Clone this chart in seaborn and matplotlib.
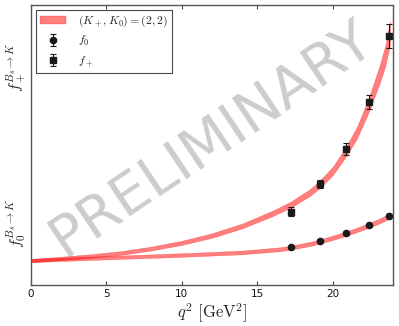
import numpy as np
import pandas as pd
import matplotlib
matplotlib.use('Agg')
import matplotlib.pyplot as plt
import seaborn as sns

# lattice points
q2_pts = [17.24, 19.16, 20.87, 22.39, 23.76]
f0_pts = [0.404, 0.475, 0.554, 0.643, 0.743]
f0_err = [0.012, 0.012, 0.012, 0.013, 0.015]
fp_pts = [0.785, 1.082, 1.457, 1.958, 2.668]
fp_err = [0.050, 0.048, 0.059, 0.075, 0.129]

# fit bands
q2_fp_band = [0, 2, 4, 6, 8, 10, 12, 14, 16, 17.24, 18.5, 19.16, 20, 20.87,
              21.6, 22.39, 23.1, 23.5, 23.8]
fp_band = [0.262, 0.285, 0.311, 0.343, 0.391, 0.452, 0.530, 0.632, 0.766,
           0.863, 0.991, 1.082, 1.221, 1.425, 1.629, 1.929, 2.250, 2.464, 2.700]
fp_band_err = [0.018, 0.018, 0.019, 0.020, 0.021, 0.022, 0.024, 0.026, 0.029,
               0.032, 0.036, 0.040, 0.045, 0.052, 0.062, 0.076, 0.095, 0.110, 0.125]

q2_f0_band = [0, 3, 6, 9, 11.2, 13.9, 15, 16.5, 17.24, 18.5, 19.16, 20, 20.87,
              21.6, 22.39, 23.1, 23.8]
f0_band = [0.262, 0.281, 0.298, 0.315, 0.329, 0.348, 0.362, 0.383, 0.400,
           0.440, 0.468, 0.505, 0.548, 0.590, 0.638, 0.685, 0.742]
f0_band_err = [0.018, 0.018, 0.018, 0.019, 0.019, 0.020, 0.020, 0.021, 0.021,
               0.022, 0.022, 0.023, 0.023, 0.024, 0.025, 0.026, 0.028]

sns.set_theme(style='white')
plt.rcParams['mathtext.fontset'] = 'cm'
plt.rcParams['font.family'] = ['DejaVu Sans']

fig = plt.figure(figsize=(3.99, 3.26), dpi=100)
ax = fig.add_axes([0.0777, 0.1258, 0.9073, 0.8589])

fpb = pd.DataFrame({'q2': q2_fp_band, 'f': fp_band, 'e': fp_band_err})
f0b = pd.DataFrame({'q2': q2_f0_band, 'f': f0_band, 'e': f0_band_err})

ax.fill_between(fpb.q2, fpb.f - fpb.e, fpb.f + fpb.e, color='red', alpha=0.5,
                linewidth=0.3, label='$(K_+,K_0)=(2,2)$')
ax.fill_between(f0b.q2, f0b.f - f0b.e, f0b.f + f0b.e, color='red', alpha=0.5,
                linewidth=0.3)

ax.errorbar(q2_pts, f0_pts, yerr=f0_err, fmt='o', color='k', ms=4.5,
            capsize=2, elinewidth=0.8, capthick=0.8, label='$f_0$')
ax.errorbar(q2_pts, fp_pts, yerr=fp_err, fmt='s', color='k', ms=4.5,
            capsize=2, elinewidth=0.8, capthick=0.8, label='$f_+$')

ax.set_xlim(0, 24)
ax.set_ylim(0, 3.0)
ax.set_xticks([0, 5, 10, 15, 20])
ax.set_yticks([])
ax.tick_params(axis='x', direction='in', top=True, bottom=True, length=3,
               width=0.8, color='#444444', labelsize=7.5, labelcolor='#111111',
               pad=3)
for s in ax.spines.values():
    s.set_color('#555555')
    s.set_linewidth(1.0)

ax.set_xlabel(r'$q^2\ [\mathrm{GeV}^2]$', fontsize=12, labelpad=2)
ax.text(-0.041, 0.779, r'$f_+^{B_s\to K}$', transform=ax.transAxes,
        rotation=90, ha='center', va='center', fontsize=11.5)
ax.text(-0.041, 0.221, r'$f_0^{B_s\to K}$', transform=ax.transAxes,
        rotation=90, ha='center', va='center', fontsize=11.5)

leg = ax.legend(loc='upper left', fontsize=8.5, frameon=True, fancybox=False,
                edgecolor='k', borderaxespad=0.4, handlelength=2.2,
                borderpad=0.35, labelspacing=0.45, handletextpad=1.0)
leg.get_frame().set_linewidth(0.8)

ax.text(0.5, 0.52, 'PRELIMINARY', transform=ax.transAxes, fontsize=41,
        rotation=34, ha='center', va='center', color='gray', alpha=0.4)

fig.savefig('out.png', dpi=100)
